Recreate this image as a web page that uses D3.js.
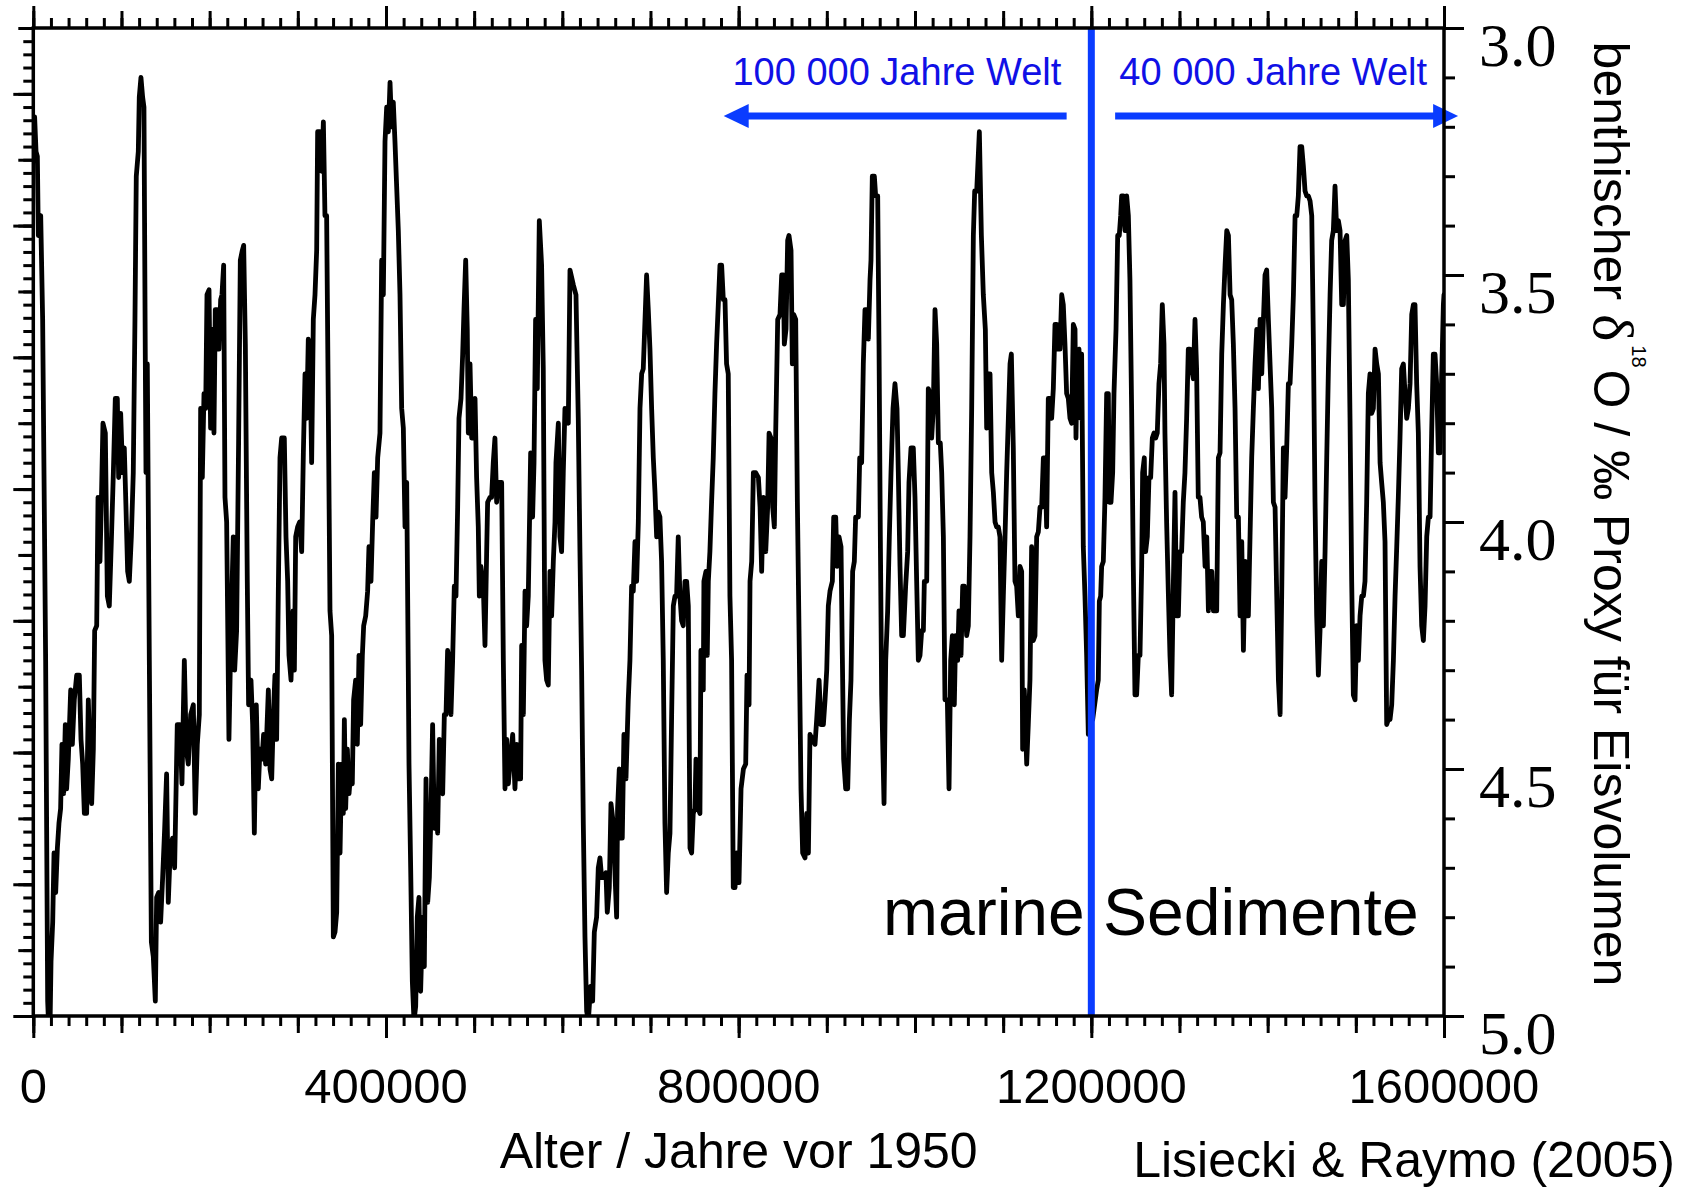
<!DOCTYPE html>
<html>
<head>
<meta charset="utf-8">
<script src="https://cdn.jsdelivr.net/npm/d3@7"></script>
<style>
  html, body { margin: 0; padding: 0; background: #fff; }
  svg { display: block; }
</style>
</head>
<body>
<svg id="chart" width="1689" height="1187"></svg>
<script>
// Benthic δ18O stack (Lisiecki & Raymo 2005): [age in kyr before 1950, δ18O in ‰]
const stack0to400 = [
  [0,3.18],[1.5,3.18],[3.1,3.25],[4.6,3.26],[5.7,3.42],[8.4,3.38],[10.6,3.59],[14.0,4.28],[16.3,4.97],[17.4,5.02],[19.0,5.02],[20.1,4.89],
  [22.0,4.81],[23.5,4.67],[25.4,4.75],[27.3,4.66],[29.1,4.61],[31.0,4.58],[32.5,4.45],[34.4,4.55],[36.3,4.41],[37.8,4.54],[39.7,4.48],[42.4,4.34],
  [44.3,4.45],[46.5,4.36],[49.2,4.31],[52.2,4.31],[54.1,4.44],[56.0,4.49],[57.9,4.59],[60.5,4.59],[62.4,4.36],[64.3,4.48],[66.2,4.57],[68.1,4.46],
  [69.6,4.22],[71.9,4.21],[73.4,3.95],[75.6,4.08],[77.2,3.96],[79.0,3.80],[81.7,3.82],[84.0,4.15],[86.2,4.17],[88.5,4.04],[90.8,3.90],[93.0,3.75],
  [95.3,3.75],[96.8,3.91],[99.1,3.78],[101.3,3.90],[103.2,3.85],[105.1,3.97],[107.0,4.10],[108.9,4.12],[111.2,4.03],[113.4,3.90],[115.3,3.59],[116.8,3.30],
  [119.1,3.25],[120.2,3.14],[122.1,3.10],[124.0,3.14],[125.5,3.16],[127.0,3.66],[127.8,3.90],[129.3,3.68],[131.6,4.28],[133.9,4.85],[136.1,4.88],[138.4,4.97],
  [139.9,4.76],[142.2,4.75],[144.4,4.81],[146.7,4.72],[149.0,4.62],[151.2,4.51],[153.1,4.77],[155.4,4.66],[158.0,4.64],[160.3,4.70],[163.3,4.41],[166.4,4.41],
  [168.6,4.53],[171.3,4.28],[173.5,4.46],[175.8,4.49],[178.5,4.39],[181.5,4.37],[183.7,4.59],[186.0,4.45],[188.3,4.39],[189.8,3.77],[191.7,3.91],[193.6,3.74],
  [195.5,3.77],[197.0,3.54],[199.3,3.53],[201.1,3.81],[203.0,3.61],[204.9,3.82],[206.4,3.57],[208.7,3.57],[210.6,3.65],[212.5,3.55],[214.0,3.54],[215.9,3.48],
  [217.4,3.95],[219.3,4.00],[221.9,4.44],[224.2,4.22],[226.8,4.03],[228.4,4.30],[230.6,4.22],[232.9,3.83],[234.8,3.47],[237.1,3.45],[238.6,3.44],[240.5,3.64],
  [242.7,4.12],[244.2,4.37],[246.9,4.32],[248.8,4.41],[250.7,4.63],[252.9,4.37],[255.2,4.54],[257.1,4.46],[259.4,4.48],[261.2,4.43],[263.5,4.49],
  [266.6,4.34],[268.5,4.50],[270.4,4.52],[272.3,4.39],[274.1,4.31],[276.0,4.44],[277.9,4.14],[279.8,3.87],[281.7,3.83],[284.7,3.83],[286.6,4.03],[288.5,4.12],
  [290.0,4.27],[292.3,4.32],[294.6,4.18],[296.1,4.30],[297.6,4.03],[299.8,4.01],[302.1,4.00],[304.4,4.06],[306.3,3.86],[308.2,3.70],[310.1,3.79],[311.9,3.63],
  [313.8,3.66],[315.7,3.88],[317.6,3.59],[319.5,3.54],[321.4,3.45],[322.5,3.21],[325.2,3.21],[327.1,3.29],[329.0,3.19],[330.8,3.38],[332.7,3.38],[334.6,3.77],
  [336.5,4.18],[338.4,4.23],[340.3,4.84],[342.2,4.83],[344.1,4.79],[346.0,4.49],[347.9,4.67],[349.7,4.49],[351.6,4.59],[352.8,4.40],[354.3,4.58],[356.2,4.46],
  [358.1,4.55],[360.3,4.50],[361.8,4.53],[363.3,4.36],[365.6,4.32],[367.5,4.45],[369.4,4.27],[371.3,4.41],[373.2,4.27],[374.7,4.21],[377.0,4.19],[379.2,4.14],
  [380.7,4.05],[383.0,4.12],[384.9,4.00],[386.8,3.90],[388.7,3.99],[390.6,3.87],[393.2,3.82],[395.1,3.47],[397.0,3.54],[398.9,3.23]
];
const stack400to800 = [
  [400.8,3.16],[402.7,3.21],[404.6,3.11],[406.4,3.20],[408.3,3.15],[410.2,3.23],[412.1,3.32],[414.0,3.41],[415.9,3.54],[417.8,3.77],[419.7,3.81],[421.6,4.01],
  [423.5,3.92],[425.3,4.30],[426.1,4.49],[428.0,4.70],[429.9,4.93],[431.8,5.01],[433.7,4.98],[435.5,4.80],[437.4,4.76],[439.3,4.95],[441.6,4.80],[443.5,4.90],
  [445.4,4.52],[447.3,4.77],[449.2,4.72],[451.0,4.59],[452.9,4.41],[454.8,4.62],[456.7,4.55],[458.6,4.63],[460.5,4.44],[462.4,4.54],[464.3,4.55],[466.2,4.39],
  [468.1,4.39],[469.9,4.26],[471.8,4.28],[473.7,4.39],[475.6,4.28],[477.5,4.13],[479.4,4.15],[481.3,3.97],[482.8,3.79],[485.1,3.75],[487.0,3.66],[488.5,3.57],
  [490.4,3.47],[492.2,3.61],[493.4,3.82],[495.3,3.68],[497.2,3.83],[499.1,3.83],[501.0,3.75],[502.8,3.91],[504.7,4.01],[505.9,4.15],[507.7,4.09],[510.4,4.13],
  [512.3,4.25],[514.2,4.06],[515.3,3.96],[518.0,3.95],[519.8,3.95],[521.7,3.88],[523.6,3.83],[525.5,3.96],[527.4,3.92],
  [531.2,3.92],[533.1,4.28],[535.0,4.54],[536.9,4.44],[538.8,4.53],[540.6,4.49],[543.7,4.43],[546.3,4.54],[548.2,4.45],[550.1,4.52],[552.7,4.52],[553.9,4.25],
  [555.8,4.39],[557.7,4.14],[559.5,4.21],[561.4,4.15],[564.1,3.86],[566.3,3.99],[567.9,3.88],[569.7,3.59],[571.6,3.73],[573.9,3.39],[576.5,3.48],[578.4,3.69],
  [580.3,4.28],[582.2,4.32],[584.1,4.33],[586.0,4.10],[587.9,4.19],[589.8,4.08],[591.7,4.00],[592.8,3.88],[595.5,3.80],[597.3,4.03],[599.2,4.06],[601.1,3.90],
  [603.0,3.77],[606.8,3.80],[608.7,3.49],[612.5,3.52],[615.5,3.54],[618.1,3.79],[620.0,4.06],[621.9,4.30],[623.8,4.61],[625.7,4.84],[627.6,4.99],[629.5,5.01],
  [632.1,4.94],[634.4,4.97],[636.3,4.83],[638.9,4.80],[640.8,4.70],[642.7,4.68],[644.6,4.72],[646.5,4.72],[649.5,4.71],[651.0,4.79],[653.3,4.74],[655.2,4.57],
  [657.8,4.61],[659.7,4.71],[661.6,4.80],[662.7,4.58],[664.6,4.50],[666.1,4.64],[668.0,4.64],[669.9,4.43],[672.2,4.52],[674.8,4.36],[676.7,4.28],[678.6,4.13],
  [680.5,4.14],[682.4,4.04],[684.3,4.12],[686.2,4.00],[688.1,3.77],[690.0,3.70],[691.8,3.69],[693.0,3.63],[695.6,3.50],[697.5,3.57],[699.4,3.65],[701.3,3.77],
  [703.2,3.87],[705.1,3.94],[707.0,4.03],[708.9,3.98],[710.7,3.99],[712.6,4.08],[714.5,4.28],[716.4,4.61],[718.3,4.75],[720.2,4.67],[722.1,4.63],[724.0,4.39],
  [725.9,4.17],[727.8,4.15],[729.6,4.15],[731.5,4.03],[733.4,4.15],[735.3,4.20],[737.2,4.21],[739.1,4.12],[741.0,4.12],[742.9,4.17],[744.8,4.66],[746.7,4.67],
  [748.5,4.59],[750.4,4.58],[751.6,4.48],[753.1,4.49],[754.2,4.58],[756.1,4.59],[757.2,4.26],[758.7,4.32],[759.9,4.34],[760.6,4.12],[762.9,4.10],[764.4,4.27],
  [765.6,4.12],[767.4,4.06],[769.3,3.96],[771.2,3.87],[773.1,3.74],[775.0,3.64],[776.9,3.56],[778.8,3.48],[780.7,3.48],[782.6,3.55],[784.5,3.55],[786.3,3.68],
  [788.2,3.70],[790.1,4.15],[792.0,4.28],[793.9,4.74],[795.9,4.74],[797.8,4.67]
];
const stack800to1200 = [
  [800.4,4.73],[802.7,4.54],[805.4,4.50],[808.0,4.49],[809.5,4.31],[811.8,4.37],[812.9,4.12],[814.8,4.08],[816.7,3.90],[819.3,3.90],[822.4,3.91],[824.3,3.97],
  [826.1,4.10],[828.0,3.95],[830.7,4.06],[832.9,3.97],[834.5,3.82],[836.7,3.83],[838.6,3.97],[840.5,4.01],[842.0,3.82],[844.3,3.59],[846.9,3.58],[848.8,3.50],
  [850.7,3.50],[851.8,3.64],[853.7,3.61],[855.6,3.43],[857.1,3.42],[859.4,3.45],[860.9,3.68],[862.4,3.58],[864.7,3.59],[866.6,3.96],[868.9,4.28],[870.7,4.54],
  [872.6,4.67],[875.3,4.68],[877.2,4.59],[879.1,4.67],[880.9,4.43],[883.6,4.44],[886.6,4.45],[888.5,4.40],[891.2,4.32],[893.4,4.41],[896.1,4.41],[898.0,4.36],
  [899.9,4.30],[901.7,4.17],[903.6,4.14],[906.3,4.12],[907.8,3.99],[910.1,3.99],[911.6,4.09],[913.8,4.03],[916.1,4.05],[917.6,4.27],[919.1,4.48],[921.4,4.54],
  [923.7,4.54],[925.6,4.40],[927.4,4.32],[929.3,4.10],[931.2,4.08],[932.7,3.99],[935.8,3.99],[937.3,3.87],[939.5,3.88],[941.4,3.68],[943.3,3.57],[945.6,3.57],
  [947.1,3.63],[949.0,3.51],[950.1,3.47],[951.6,3.30],[953.9,3.30],[955.4,3.34],[957.7,3.34],[959.2,3.64],[960.7,4.03],[962.2,4.35],[964.9,4.57],[966.8,4.28],
  [969.0,4.18],[970.9,4.03],[972.8,3.90],[975.1,3.77],[977.3,3.72],[979.6,3.77],[981.1,3.90],[983.0,4.09],[984.9,4.23],[986.8,4.23],[989.4,4.13],[991.7,4.06],
  [993.2,3.92],[995.5,3.85],[998.1,3.85],[1000.0,3.95],[1001.9,4.12],[1003.8,4.28],[1005.7,4.27],[1007.6,4.22],[1009.5,4.22],[1010.6,4.12],[1013.3,4.12],[1015.1,3.73],
  [1017.0,3.74],[1018.9,3.83],[1020.8,3.77],[1022.7,3.57],[1024.6,3.64],[1026.5,3.84],[1028.7,3.84],[1030.3,3.90],[1032.2,4.03],[1034.0,4.36],[1036.7,4.36],[1038.6,4.54],
  [1040.5,4.28],[1042.4,4.23],[1044.6,4.37],[1046.1,4.23],[1048.4,4.28],[1049.9,4.18],[1052.2,4.27],[1054.1,4.13],[1056.0,4.13],[1058.6,4.23],[1060.5,4.21],
  [1062.4,4.03],[1064.3,3.77],[1066.2,3.42],[1067.7,3.33],[1070.0,3.33],[1073.0,3.21],[1075.3,3.42],[1077.5,3.54],[1079.8,3.61],[1081.3,3.81],[1083.2,3.70],[1085.1,3.70],
  [1087.0,3.90],[1088.9,3.94],[1090.8,4.00],[1092.6,4.01],[1094.5,4.01],[1096.4,4.03],[1098.3,4.28],[1100.2,4.15],[1102.1,4.03],[1104.0,3.90],[1105.9,3.79],[1107.8,3.68],
  [1109.3,3.66],[1111.5,3.85],[1113.4,4.12],[1115.3,4.13],[1117.2,4.19],[1119.1,4.09],[1121.0,4.10],[1122.1,4.46],[1124.0,4.34],[1126.7,4.49],[1128.5,4.41],[1130.4,4.32],
  [1132.3,4.05],[1134.2,4.24],[1136.1,4.23],[1138.0,4.03],[1139.9,4.02],[1141.8,3.97],[1143.7,3.97],[1145.6,3.87],[1147.5,3.87],[1149.3,4.01],[1151.2,3.75],[1153.1,3.75],
  [1155.0,3.79],[1156.9,3.73],[1158.8,3.60],[1160.7,3.60],[1162.6,3.65],[1164.5,3.65],[1166.4,3.54],[1168.2,3.56],[1170.1,3.64],[1172.0,3.74],[1173.9,3.75],[1175.8,3.79],
  [1177.7,3.80],[1179.6,3.60],[1181.5,3.61],[1182.6,3.83],[1184.1,3.66],[1186.0,3.65],[1187.9,3.79],[1189.0,3.66],[1190.9,4.05],[1192.8,4.15],[1194.7,4.27],[1196.6,4.43],
  [1199.2,4.39]
];
const stack1200to1600 = [
  [1201.5,4.40],[1206.0,4.34],[1207.9,4.32],[1209.1,4.16],[1210.6,4.15],[1211.7,4.09],[1213.6,4.08],[1215.5,3.95],[1217.4,3.74],[1219.3,3.74],[1220.4,3.96],[1222.3,3.96],
  [1224.2,3.90],[1225.7,3.74],[1228.0,3.61],[1229.9,3.42],[1231.7,3.42],[1233.3,3.38],[1234.4,3.34],[1236.3,3.34],[1238.2,3.41],[1240.1,3.34],[1242.0,3.38],[1243.8,3.51],
  [1245.7,3.77],[1247.6,4.09],[1249.5,4.35],[1251.4,4.35],[1253.3,4.27],[1255.2,4.27],[1257.1,4.09],[1258.2,3.90],[1260.1,3.87],[1261.6,4.06],[1263.5,4.03],[1265.4,3.91],
  [1267.3,3.91],[1269.2,3.83],[1271.1,3.82],[1273.0,3.83],[1274.8,3.82],[1276.7,3.72],[1278.6,3.68],[1280.5,3.56],[1282.4,3.64],[1283.5,3.82],[1285.4,4.00],[1287.3,4.14],
  [1289.2,4.27],[1291.1,4.35],[1293.0,4.13],[1294.9,3.94],[1296.8,4.19],[1298.7,4.19],[1300.5,4.06],[1302.4,4.06],[1304.3,3.96],[1306.2,3.90],[1308.1,3.79],[1310.0,3.65],
  [1311.9,3.65],[1313.8,3.69],[1315.7,3.71],[1317.6,3.59],[1319.4,3.69],[1321.3,3.95],[1323.2,3.95],[1325.1,3.99],[1327.0,4.00],
  [1329.0,4.09],[1330.9,4.03],[1332.8,4.18],[1334.7,4.10],[1336.6,4.10],[1338.5,4.18],[1340.3,4.18],[1342.2,4.18],[1344.1,3.87],[1346.0,3.86],[1347.9,3.66],[1349.8,3.56],
  [1351.7,3.48],[1353.6,3.41],[1355.5,3.42],[1357.4,3.54],[1359.2,3.55],[1361.1,3.64],[1363.0,3.77],[1364.9,3.99],[1366.8,3.99],[1368.7,4.19],[1370.6,4.04],[1372.5,4.26],
  [1374.4,4.08],[1376.3,4.19],[1378.1,4.19],[1380.0,4.03],[1381.9,3.87],[1383.8,3.77],[1385.7,3.68],[1387.6,3.61],[1389.5,3.73],[1391.4,3.59],[1393.3,3.70],[1395.2,3.59],
  [1397.0,3.50],[1398.9,3.49],[1400.8,3.59],[1402.7,3.68],[1404.6,3.77],[1406.5,3.96],[1408.4,3.97],[1410.3,4.15],[1412.2,4.32],[1414.1,4.39],[1415.9,4.15],[1417.8,3.85],
  [1419.7,3.95],[1421.6,3.85],[1423.5,3.72],[1425.4,3.72],[1427.3,3.64],[1429.2,3.54],[1431.1,3.38],[1433.0,3.38],[1434.8,3.34],[1436.7,3.24],[1438.6,3.24],[1440.5,3.28],
  [1442.4,3.33],[1444.3,3.34],[1446.2,3.34],[1448.1,3.35],[1450.0,3.38],[1451.9,3.64],[1453.7,3.96],[1455.6,4.19],[1457.5,4.31],[1459.4,4.22],[1461.3,4.08],[1463.2,4.21],
  [1465.1,4.06],[1467.0,3.87],[1468.9,3.69],[1470.8,3.54],[1472.6,3.43],[1474.5,3.41],[1476.4,3.32],[1478.3,3.41],[1480.2,3.39],[1482.1,3.41],[1484.0,3.56],[1485.9,3.56],
  [1487.8,3.43],[1489.7,3.42],[1491.5,3.51],[1493.4,3.79],[1495.3,4.12],[1497.2,4.35],[1499.1,4.36],[1501.0,4.21],[1502.9,4.28],[1504.8,4.19],[1506.7,4.15],[1508.6,4.15],
  [1510.4,4.12],[1512.3,3.96],[1514.2,3.74],[1516.1,3.70],[1518.0,3.78],[1519.9,3.77],[1521.8,3.65],[1523.7,3.68],[1525.6,3.70],[1527.5,3.88],[1529.3,3.92],[1531.2,3.96],
  [1533.1,4.04],[1535.0,4.41],[1536.9,4.40],[1538.8,4.40],[1540.7,4.37],[1542.6,4.28],[1544.5,4.15],[1546.4,4.05],[1548.2,3.95],[1550.1,3.83],[1552.0,3.69],[1553.9,3.68],
  [1555.8,3.74],[1557.7,3.79],[1559.6,3.77],[1561.5,3.72],[1563.4,3.58],[1565.3,3.56],[1567.1,3.56],[1569.0,3.72],[1570.9,3.82],[1572.8,4.09],[1574.7,4.21],[1576.6,4.24],
  [1578.5,4.17],[1580.4,4.03],[1582.3,3.99],[1584.2,3.99],[1586.0,3.82],[1587.9,3.66],[1589.8,3.66],[1591.7,3.72],[1593.6,3.86],[1595.5,3.86],[1597.4,3.70],[1599.3,3.56],
  [1600.0,3.54]
];

// Axis ticks and labels
const xLabelTicks = [0, 400000, 800000, 1200000, 1600000];
const yLabelTicks = [3.0, 3.5, 4.0, 4.5, 5.0];
const regimeBoundary = 1200000;
const regimeTexts = ["100 000 Jahre Welt", "40 000 Jahre Welt"];

const SANS = "'Liberation Sans', Arial, Helvetica, sans-serif";
const SERIF = "'Liberation Serif', 'Times New Roman', serif";
const BLUE_LINE = "#0a3cff";
const BLUE_TEXT = "#1010e6";

const plot = { left: 33.3, right: 1444, top: 28, bottom: 1016 };
const x = d3.scaleLinear().domain([0, 1600000]).range([plot.left, plot.right]);
const y = d3.scaleLinear().domain([3.0, 5.0]).range([plot.top, plot.bottom]);
// unlabelled secondary scale on the left edge
const yLeft = d3.scaleLinear().domain([0, 150]).range([plot.bottom, plot.top]);

const svg = d3.select("#chart");
svg.append("rect").attr("width", 1689).attr("height", 1187).attr("fill", "#fff");

const series = [...stack0to400, ...stack400to800, ...stack800to1200, ...stack1200to1600]
  .map(([a, v]) => ({ age: a * 1000, v }));

// clip the curve to the plotting frame
svg.append("clipPath").attr("id", "plotClip")
  .append("rect")
  .attr("x", plot.left).attr("y", plot.top)
  .attr("width", plot.right - plot.left).attr("height", plot.bottom - plot.top);

const line = d3.line().x(d => x(d.age)).y(d => y(d.v));
svg.append("path")
  .datum(series)
  .attr("clip-path", "url(#plotClip)")
  .attr("d", line)
  .attr("fill", "none")
  .attr("stroke", "#000")
  .attr("stroke-width", 4.8)
  .attr("stroke-linejoin", "round")
  .attr("stroke-linecap", "round");

// regime boundary at 1.2 Ma
svg.append("line")
  .attr("x1", x(regimeBoundary)).attr("x2", x(regimeBoundary))
  .attr("y1", y(3.0)).attr("y2", y(5.0))
  .attr("stroke", BLUE_LINE).attr("stroke-width", 7);

// arrows pointing away from the boundary
const arrowLevel = 3.178;
const arrows = [
  { from: 1172000, to: 783000 },
  { from: 1227000, to: 1616000 }
];
arrows.forEach(a => {
  const x0 = x(a.from), x1 = x(a.to), ay = y(arrowLevel);
  const dir = Math.sign(x1 - x0);
  const headLen = 25, headHalf = 12;
  svg.append("line")
    .attr("x1", x0).attr("x2", x1 - dir * (headLen - 2))
    .attr("y1", ay).attr("y2", ay)
    .attr("stroke", BLUE_LINE).attr("stroke-width", 7);
  svg.append("path")
    .attr("d", `M${x1},${ay} L${x1 - dir * headLen},${ay - headHalf} L${x1 - dir * headLen},${ay + headHalf} Z`)
    .attr("fill", BLUE_LINE);
});

const textLevel = 85;
svg.append("text")
  .attr("x", x(regimeBoundary) - 30).attr("y", textLevel)
  .attr("text-anchor", "end")
  .style("font-family", SANS).style("font-size", "38px").attr("fill", BLUE_TEXT)
  .text(regimeTexts[0]);
svg.append("text")
  .attr("x", x(regimeBoundary) + 28).attr("y", textLevel)
  .attr("text-anchor", "start")
  .style("font-family", SANS).style("font-size", "38px").attr("fill", BLUE_TEXT)
  .text(regimeTexts[1]);

svg.append("text")
  .attr("x", 883).attr("y", 935)
  .style("font-family", SANS).style("font-size", "66px").attr("fill", "#000")
  .text("marine Sedimente");

// tick helper: draws only tick marks (no domain line)
function ticks(axis, translate, values, size) {
  const g = svg.append("g").attr("transform", translate)
    .call(axis.tickValues(values).tickSize(size).tickSizeOuter(0).tickFormat(""));
  g.select(".domain").remove();
  g.selectAll(".tick line").attr("stroke", "#000").attr("stroke-width", 3);
  return g;
}

const xMinor = d3.range(0, 1600001, 20000);
const xMedium = d3.range(0, 1600001, 100000);
[[xMinor, 10], [xMedium, 17], [xLabelTicks, 22]].forEach(([vals, size]) => {
  ticks(d3.axisBottom(x), `translate(0,${plot.bottom})`, vals, size);
  ticks(d3.axisTop(x), `translate(0,${plot.top})`, vals, size);
});

ticks(d3.axisLeft(yLeft), `translate(${plot.left},0)`, d3.range(0, 151, 2), 10);
ticks(d3.axisLeft(yLeft), `translate(${plot.left},0)`, d3.range(0, 151, 10), 15);
ticks(d3.axisLeft(yLeft), `translate(${plot.left},0)`, d3.range(0, 151, 20), 20);

ticks(d3.axisRight(y), `translate(${plot.right},0)`, d3.range(30, 51).map(d => d / 10), 11);
ticks(d3.axisRight(y), `translate(${plot.right},0)`, yLabelTicks, 20);

// frame
svg.append("rect")
  .attr("x", plot.left).attr("y", plot.top)
  .attr("width", plot.right - plot.left).attr("height", plot.bottom - plot.top)
  .attr("fill", "none").attr("stroke", "#000").attr("stroke-width", 3.5);

// x tick labels
svg.append("g").selectAll("text").data(xLabelTicks).join("text")
  .attr("x", d => x(d)).attr("y", 1103)
  .attr("text-anchor", "middle")
  .style("font-family", SANS).style("font-size", "49px").attr("fill", "#000")
  .text(d3.format("d"));

// y tick labels (right side)
svg.append("g").selectAll("text").data(yLabelTicks).join("text")
  .attr("x", plot.right + 35).attr("y", d => y(d) + 38)
  .attr("text-anchor", "start")
  .style("font-family", SERIF).style("font-size", "62px").attr("fill", "#000")
  .text(d3.format(".1f"));

// axis titles
svg.append("text")
  .attr("x", (plot.left + plot.right) / 2).attr("y", 1168)
  .attr("text-anchor", "middle")
  .style("font-family", SANS).style("font-size", "50px").attr("fill", "#000")
  .text("Alter / Jahre vor 1950");

svg.append("text")
  .attr("x", 1675).attr("y", 1177)
  .attr("text-anchor", "end")
  .style("font-family", SANS).style("font-size", "50px").attr("fill", "#000")
  .text("Lisiecki & Raymo (2005)");

const yTitle = svg.append("text")
  .attr("transform", "translate(1594,514) rotate(90)")
  .attr("text-anchor", "middle")
  .style("font-family", SANS).style("font-size", "50px").attr("fill", "#000");
yTitle.append("tspan").text("benthischer ");
yTitle.append("tspan").style("font-family", SERIF).style("font-size", "58px").text("δ");
yTitle.append("tspan").attr("dx", 4).attr("dy", -38).style("font-size", "20px").text("18");
yTitle.append("tspan").attr("dx", 2).attr("dy", 38).text("O / ‰ Proxy für Eisvolumen");
</script>
</body>
</html>
